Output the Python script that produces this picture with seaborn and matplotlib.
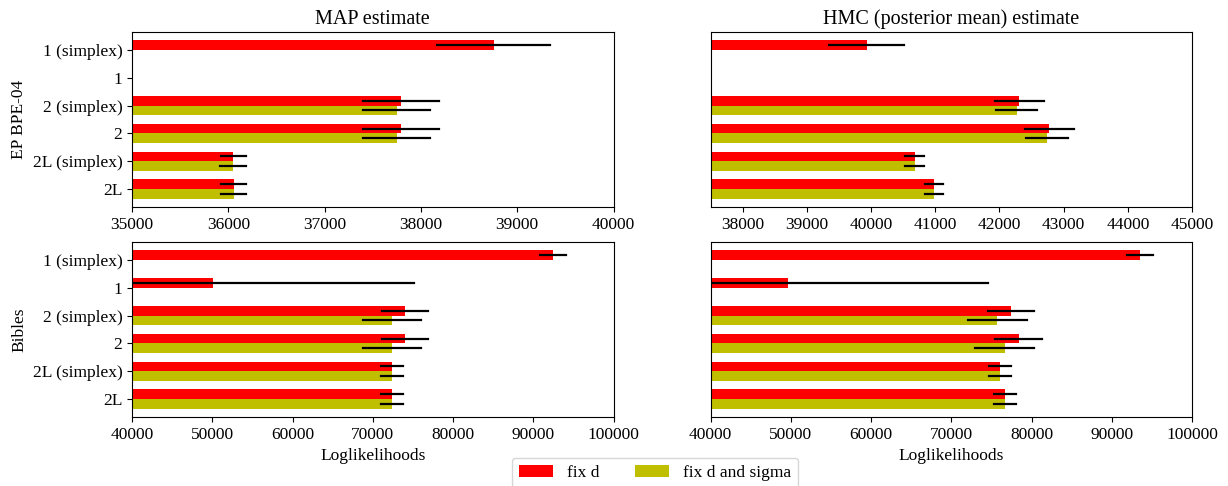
import numpy as np
import pandas as pd
import matplotlib
matplotlib.use("Agg")
import matplotlib.pyplot as plt
import seaborn as sns

nan = np.nan

categories = ["1 (simplex)", "1", "2 (simplex)", "2", "2L (simplex)", "2L"]
series = ["fix d", "fix d and sigma"]
colors = ["#ff0000", "#bfbf00"]

# EP BPE-04, MAP estimate
map_ep_fixd = [38754, nan, 37789, 37789, 36052, 36055]
map_ep_fixd_err = [582, nan, 395, 395, 131, 131]
map_ep_sigma = [nan, nan, 37750, 37750, 36052, 36055]
map_ep_sigma_err = [nan, nan, 348, 348, 135, 131]

# EP BPE-04, HMC estimate
hmc_ep_fixd = [39930, nan, 42308, 42780, 40680, 40980]
hmc_ep_fixd_err = [586, nan, 384, 386, 144, 138]
hmc_ep_sigma = [nan, nan, 42271, 42740, 40680, 40980]
hmc_ep_sigma_err = [nan, nan, 321, 325, 150, 140]

# Bibles, MAP estimate
map_bib_fixd = [92450, 50150, 74000, 74000, 72380, 72380]
map_bib_fixd_err = [1620, 25050, 2880, 2880, 1330, 1330]
map_bib_sigma = [nan, nan, 72380, 72380, 72380, 72380]
map_bib_sigma_err = [nan, nan, 3590, 3590, 1330, 1330]

# Bibles, HMC estimate
hmc_bib_fixd = [93480, 49715, 77460, 78380, 76065, 76690]
hmc_bib_fixd_err = [1620, 24875, 2895, 2920, 1325, 1350]
hmc_bib_sigma = [nan, nan, 75720, 76660, 76065, 76690]
hmc_bib_sigma_err = [nan, nan, 3680, 3655, 1325, 1350]

row_labels = ["EP BPE-04", "Bibles"]
col_titles = ["MAP estimate", "HMC (posterior mean) estimate"]
xlims = [[(35000, 40000), (37500, 45000)], [(40000, 100000), (40000, 100000)]]

panels = [
    [((map_ep_fixd, map_ep_fixd_err), (map_ep_sigma, map_ep_sigma_err)),
     ((hmc_ep_fixd, hmc_ep_fixd_err), (hmc_ep_sigma, hmc_ep_sigma_err))],
    [((map_bib_fixd, map_bib_fixd_err), (map_bib_sigma, map_bib_sigma_err)),
     ((hmc_bib_fixd, hmc_bib_fixd_err), (hmc_bib_sigma, hmc_bib_sigma_err))],
]


def build_table(panel):
    rows = []
    for name, (vals, errs) in zip(series, panel):
        for cat, v, e in zip(categories, vals, errs):
            if np.isnan(v):
                continue
            # two rows whose mean is the value and whose min/max give the error bar
            rows.append({"model": cat, "series": name, "ll": v - e})
            rows.append({"model": cat, "series": name, "ll": v + e})
    return pd.DataFrame(rows)


plt.rcParams["font.family"] = ["Liberation Serif", "DejaVu Serif"]
plt.rcParams["font.size"] = 12.5

fig = plt.figure(figsize=(12.28, 4.86), dpi=100)
axes = fig.subplots(2, 2)
fig.subplots_adjust(left=0.1075, right=0.9707, top=0.9342, bottom=0.142,
                    wspace=0.2015, hspace=0.2)

bar_width = 0.7
handles, labels = None, None
for r in range(2):
    for c in range(2):
        ax = axes[r, c]
        df = build_table(panels[r][c])
        sns.barplot(data=df, y="model", x="ll", hue="series", order=categories,
                    hue_order=series, palette=dict(zip(series, colors)),
                    orient="y", width=bar_width, saturation=1,
                    estimator="mean", errorbar=("pi", 100),
                    err_kws={"color": "black", "linewidth": 1.6},
                    capsize=0, linewidth=0, edgecolor="none",
                    ax=ax, legend=(r == 0 and c == 0))
        if r == 0 and c == 0:
            handles, labels = ax.get_legend_handles_labels()
            ax.get_legend().remove()
        ax.set_xlim(*xlims[r][c])
        n = len(categories)
        lo, hi = -bar_width / 2, n - 1 + bar_width / 2
        pad = 0.05 * (hi - lo)
        ax.set_ylim(hi + pad, lo - pad)
        ax.set_xlabel("Loglikelihoods" if r == 1 else "")
        if c == 0:
            ax.set_ylabel(row_labels[r])
        else:
            ax.set_ylabel("")
            ax.tick_params(axis="y", left=False, labelleft=False)
        if r == 0:
            ax.set_title(col_titles[c], fontsize=14.5)

fig.legend(handles, labels, loc="upper center", ncol=2,
           bbox_to_anchor=(655 / 1228, 1 - 449 / 486), fontsize=12.5)

fig.savefig("out.png", dpi=100)
